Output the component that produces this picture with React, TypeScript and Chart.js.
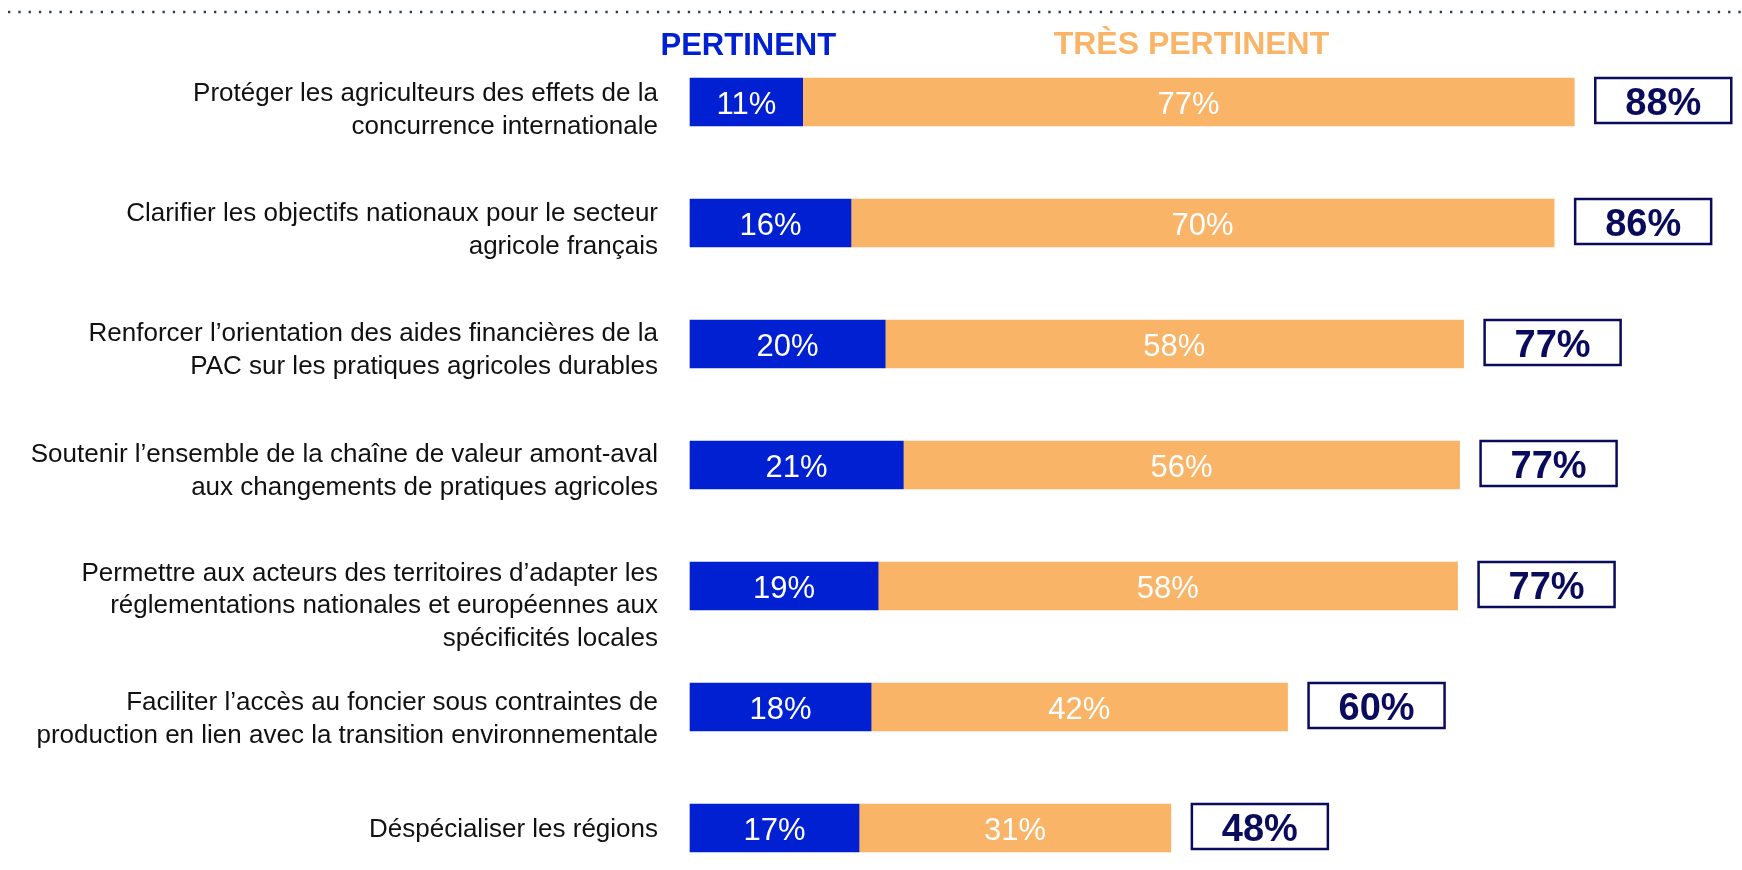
import React, { useEffect, useRef } from "react";
import { Chart, registerables } from "chart.js";

Chart.register(...registerables);

const categories: string[][] = [
  ["Protéger les agriculteurs des effets de la", "concurrence internationale"],
  ["Clarifier les objectifs nationaux pour le secteur", "agricole français"],
  ["Renforcer l’orientation des aides financières de la", "PAC sur les pratiques agricoles durables"],
  ["Soutenir l’ensemble de la chaîne de valeur amont-aval", "aux changements de pratiques agricoles"],
  ["Permettre aux acteurs des territoires d’adapter les", "réglementations nationales et européennes aux", "spécificités locales"],
  ["Faciliter l’accès au foncier sous contraintes de", "production en lien avec la transition environnementale"],
  ["Déspécialiser les régions"],
];

const seriesNames = ["PERTINENT", "TRÈS PERTINENT"];
const pertinent = [11.2, 16.0, 19.4, 21.2, 18.7, 18.0, 16.8];
const tresPertinent = [76.7, 69.9, 57.5, 55.3, 57.6, 41.4, 31.0];
const pertinentLabels = ["11%", "16%", "20%", "21%", "19%", "18%", "17%"];
const tresPertinentLabels = ["77%", "70%", "58%", "56%", "58%", "42%", "31%"];
const totalLabels = ["88%", "86%", "77%", "77%", "77%", "60%", "48%"];

const FONT = '"Liberation Sans", Arial, Helvetica, sans-serif';
const BLUE = "#0020D2";
const ORANGE = "#FAB467";
const NAVY = "#0B0B5E";

const overlayPlugin = {
  id: "overlay",
  afterDatasetsDraw(chart: any) {
    const ctx: CanvasRenderingContext2D = chart.ctx;
    const m0 = chart.getDatasetMeta(0);
    const m1 = chart.getDatasetMeta(1);
    ctx.save();

    // dotted top rule
    ctx.strokeStyle = "#243F50";
    ctx.lineWidth = 2.3;
    ctx.setLineDash([2.3, 8]);
    ctx.beginPath();
    ctx.moveTo(8, 12);
    ctx.lineTo(chart.width, 12);
    ctx.stroke();
    ctx.setLineDash([]);

    // series headers centered over first bar segments
    const b0 = m0.data[0].getProps(["x", "base"], true);
    const b1 = m1.data[0].getProps(["x", "base"], true);
    ctx.textAlign = "center";
    ctx.textBaseline = "alphabetic";
    ctx.font = `bold 31px ${FONT}`;
    ctx.fillStyle = BLUE;
    ctx.fillText(seriesNames[0], (b0.x + b0.base) / 2 + 2, 55);
    ctx.font = `bold 32px ${FONT}`;
    ctx.fillStyle = ORANGE;
    ctx.fillText(seriesNames[1], (b1.x + b1.base) / 2 + 3, 54);

    // values in bars
    const segLabels = [pertinentLabels, tresPertinentLabels];
    [m0, m1].forEach((meta: any, di: number) => {
      meta.data.forEach((el: any, i: number) => {
        const p = el.getProps(["x", "y", "base"], true);
        ctx.font = `31px ${FONT}`;
        ctx.fillStyle = "#FFFFFF";
        ctx.textAlign = "center";
        ctx.fillText(segLabels[di][i], (p.x + p.base) / 2, p.y + 11.5);
      });
    });

    // totals boxes
    m1.data.forEach((el: any, i: number) => {
      const p = el.getProps(["x", "y"], true);
      const bx = p.x + 21;
      const bw = 136;
      const bh = 45;
      const by = p.y - 24;
      ctx.strokeStyle = NAVY;
      ctx.lineWidth = 2.5;
      ctx.strokeRect(bx, by, bw, bh);
      ctx.font = `bold 38px ${FONT}`;
      ctx.fillStyle = NAVY;
      ctx.textAlign = "center";
      ctx.fillText(totalLabels[i], bx + bw / 2, p.y + 12.5);
    });

    // category labels
    const yScale = chart.scales.y;
    const lineH = 32.5;
    const shift = [6, 5, 4, 4, 18, 10, 0];
    ctx.font = `26px ${FONT}`;
    ctx.fillStyle = "#111111";
    ctx.textAlign = "right";
    categories.forEach((lines, i) => {
      const cy = yScale.getPixelForValue(i);
      const n = lines.length;
      const first = cy + shift[i] - ((n - 1) * lineH) / 2;
      lines.forEach((ln, k) => {
        ctx.fillText(ln, 658, first + k * lineH + 9.3);
      });
    });

    ctx.restore();
  },
};

export default function App() {
  const ref = useRef<HTMLCanvasElement | null>(null);

  useEffect(() => {
    document.body.style.margin = "0";
    const canvas = ref.current;
    if (!canvas) return;
    const chart = new Chart(canvas, {
      type: "bar",
      data: {
        labels: categories.map((c) => c.join(" ")),
        datasets: [
          {
            label: seriesNames[0],
            data: pertinent,
            backgroundColor: BLUE,
            borderWidth: 0,
            barThickness: 48,
            clip: false as any,
          },
          {
            label: seriesNames[1],
            data: tresPertinent,
            backgroundColor: ORANGE,
            borderWidth: 0,
            barThickness: 48,
            clip: false as any,
          },
        ],
      },
      options: {
        indexAxis: "y",
        animation: false,
        responsive: false,
        maintainAspectRatio: false,
        devicePixelRatio: 1,
        layout: { padding: { left: 690, right: 46, top: 102, bottom: 42 } },
        scales: {
          x: { type: "linear", min: 0, max: 100, stacked: true, display: false },
          y: { type: "category", stacked: true, offset: false, display: false },
        },
        plugins: {
          legend: { display: false },
          tooltip: { enabled: false },
        },
      },
      plugins: [overlayPlugin],
    });
    return () => chart.destroy();
  }, []);

  return (
    <div style={{ width: 1742, height: 870, background: "#FFFFFF" }}>
      <canvas ref={ref} width={1742} height={870} style={{ display: "block", width: 1742, height: 870 }} />
    </div>
  );
}
